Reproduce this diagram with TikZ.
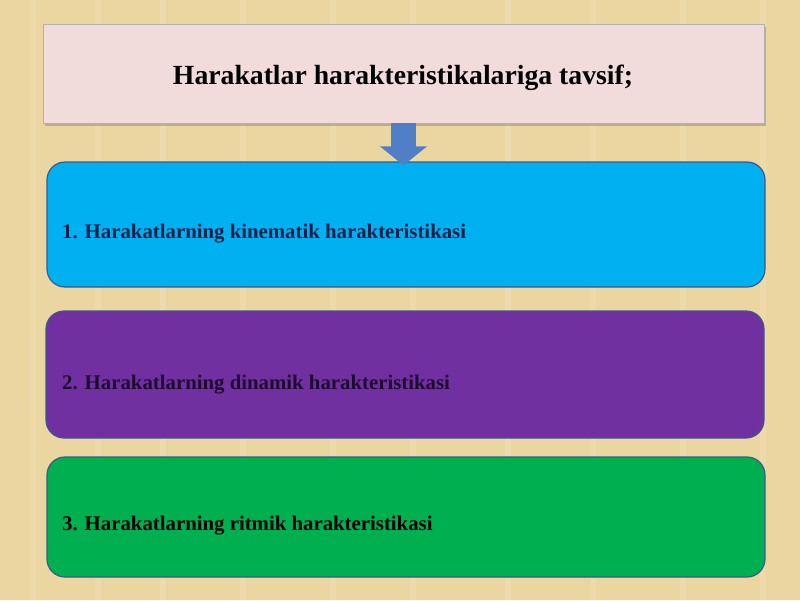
\documentclass[tikz,border=0pt]{standalone}
\usepackage{fontspec}
\setmainfont{Liberation Serif}
\usetikzlibrary{shadows,arrows.meta}
\definecolor{bgc}{HTML}{EBD5A0}
\definecolor{pinkc}{HTML}{F2DCDB}
\definecolor{cyanc}{HTML}{00B0F0}
\definecolor{purplec}{HTML}{7030A0}
\definecolor{greenc}{HTML}{00B050}
\definecolor{arrowc}{HTML}{4F7FC6}
\definecolor{navyt}{HTML}{12204A}
\definecolor{purt}{HTML}{1E0A30}
\definecolor{edgec}{HTML}{3A5A8A}
\tikzset{
  itembox/.style={draw=edgec, line width=1.2pt, rounded corners=18pt, minimum width=718pt, minimum height=124pt, inner sep=0pt},
  itemtext/.style={anchor=west, inner sep=0pt, font=\bfseries\fontsize{20.8}{24}\selectfont},
}
\begin{document}
\begin{tikzpicture}[x=1pt,y=-1pt]
\useasboundingbox (0,0) rectangle (800,600);
\fill[bgc] (0,0) rectangle (800,600);
\foreach \xx/\op in {30/0.12,95/0.1,160/0.14,240/0.1,330/0.12,410/0.1,505/0.14,590/0.1,680/0.12,760/0.1}{
  \fill[white, opacity=\op] (\xx,0) rectangle (\xx+6,600);
}
\node[draw=gray!60, fill=pinkc, minimum width=721pt, minimum height=99pt, inner sep=0pt,
  drop shadow={opacity=0.45, shadow xshift=2pt, shadow yshift=-3pt}] (top) at (403.5,73.5) {};
\node[inner sep=0pt, font=\bfseries\fontsize{27.7}{32}\selectfont] (title) at (403,78) {Harakatlar harakteristikalariga tavsif;};
\node[itembox, fill=cyanc, minimum height=125pt] (b1) at (406,224.5) {};
\node[itembox, fill=purplec, minimum height=127pt] (b2) at (405,374.5) {};
\node[itembox, fill=greenc, minimum height=120pt] (b3) at (406,517) {};
\draw[arrowc, line width=25pt, -{Triangle[width=46pt,length=19pt]}] (top.south) -- ([yshift=-4pt]top.south |- b1.north);
\node[itemtext, text=navyt] (t1) at (62,234) {1. Harakatlarning kinematik harakteristikasi};
\node[itemtext, text=purt] (t2) at (62,385) {2. Harakatlarning dinamik harakteristikasi};
\node[itemtext, text=black] (t3) at (62,526) {3. Harakatlarning ritmik harakteristikasi};
\end{tikzpicture}
\end{document}
